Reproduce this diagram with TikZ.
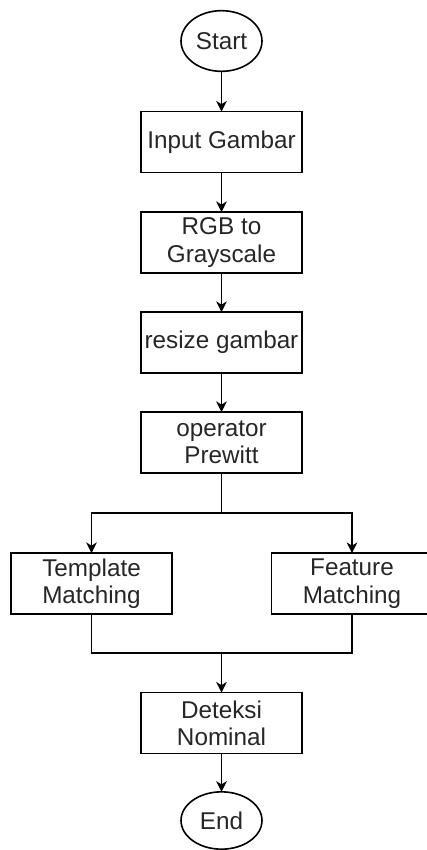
\documentclass[tikz,border=0pt]{standalone}
\usepackage{fontspec}
\setmainfont{Liberation Sans}
\usetikzlibrary{shapes.geometric,arrows.meta}
\begin{document}
\begin{tikzpicture}[x=0.75pt,y=-0.75pt,
  every node/.style={font=\fontsize{18.2pt}{20.5pt}\selectfont, text=black!85, align=center, inner sep=0pt, outer sep=0pt},
  procbox/.style={draw=black, line width=1.2pt, rectangle, minimum width=120.75pt, minimum height=45.6pt},
  termbox/.style={draw=black, line width=1.2pt, ellipse, minimum width=60.75pt, minimum height=45.5pt},
  conn/.style={draw=black, line width=1.2pt},
  arr/.style={conn, -{Stealth[length=8pt,width=8pt,inset=2.4pt]}}]
\useasboundingbox (0,0) rectangle (427,850);
\node[termbox] (start) at (221.5,41) {Start};
\node[procbox] (input) at (221.5,142) {Input Gambar};
\node[procbox] (rgb) at (221.5,242.5) {RGB to\\Grayscale};
\node[procbox] (resize) at (221.5,342.5) {resize gambar};
\node[procbox] (prewitt) at (221.5,442.5) {operator\\Prewitt};
\node[procbox] (template) at (91.5,583.5) {Template\\Matching};
\node[procbox] (feature) at (352,583.5) {Feature\\Matching};
\node[procbox] (deteksi) at (221.5,723) {Deteksi\\Nominal};
\node[termbox, minimum height=43pt] (end) at (221.5,820.5) {End};
\coordinate (split) at (221.5,513);
\coordinate (merge) at (221.5,653);
\draw[arr] (start) -- (input);
\draw[arr] (input) -- (rgb);
\draw[arr] (rgb) -- (resize);
\draw[arr] (resize) -- (prewitt);
\draw[conn] (prewitt) -- (split);
\draw[arr] (split) -| (template);
\draw[arr] (split) -| (feature);
\draw[conn] (template) |- (merge);
\draw[conn] (feature) |- (merge);
\draw[arr] (merge) -- (deteksi);
\draw[arr] (deteksi) -- (end);
\end{tikzpicture}
\end{document}
